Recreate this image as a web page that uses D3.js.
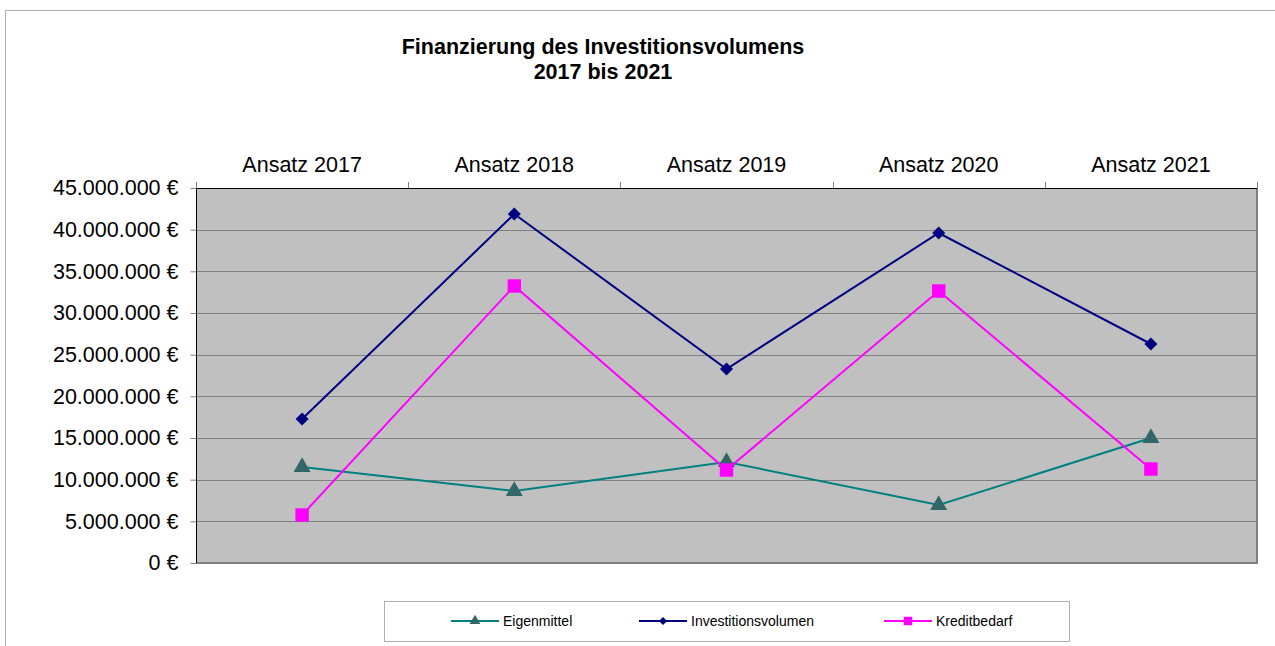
<!DOCTYPE html>
<html>
<head>
<meta charset="utf-8">
<script src="https://cdn.jsdelivr.net/npm/d3@7"></script>
<style>
  body { margin: 0; background: #fff; }
  svg { font-family: "Liberation Sans", Arial, sans-serif; }
</style>
</head>
<body>
<div class="mainContainer"></div>
<script>
const categories = ['Ansatz 2017', 'Ansatz 2018', 'Ansatz 2019', 'Ansatz 2020', 'Ansatz 2021'];
const eigenmittel = [11520000, 8640000, 12120000, 6960000, 15000000];
const investitionsvolumen = [17280000, 41880000, 23280000, 39600000, 26280000];
const kreditbedarf = [5760000, 33240000, 11160000, 32640000, 11280000];
const yTicks = [0, 5000000, 10000000, 15000000, 20000000, 25000000, 30000000, 35000000, 40000000, 45000000];

const series = [
  {name: 'Eigenmittel', values: eigenmittel, line: '#008080', marker: '#336666', symbol: d3.symbolTriangle, size: 125, rot: 0},
  {name: 'Investitionsvolumen', values: investitionsvolumen, line: '#000080', marker: '#000080', symbol: d3.symbolSquare, size: 85, rot: 45},
  {name: 'Kreditbedarf', values: kreditbedarf, line: '#FF00FF', marker: '#FF00FF', symbol: d3.symbolSquare, size: 180, rot: 0}
];

const svg = d3.select('.mainContainer')
  .append('svg')
  .attr('width', 1275)
  .attr('height', 646);

// outer chart frame
svg.append('rect')
  .attr('x', 5.5).attr('y', 10.5)
  .attr('width', 1280).attr('height', 650)
  .attr('fill', '#fff').attr('stroke', '#b0b0b0');

// title
svg.append('text')
  .attr('x', 603).attr('y', 54)
  .attr('text-anchor', 'middle')
  .attr('font-size', 21.5).attr('font-weight', 'bold')
  .text('Finanzierung des Investitionsvolumens');
svg.append('text')
  .attr('x', 603).attr('y', 79)
  .attr('text-anchor', 'middle')
  .attr('font-size', 21.5).attr('font-weight', 'bold')
  .text('2017 bis 2021');

const pLeft = 196, pTop = 188, pRight = 1257, pBottom = 563;

const x = d3.scaleBand().domain(categories).range([pLeft, pRight]);
const y = d3.scaleLinear().domain([0, 45000000]).range([pBottom, pTop]);

// plot background
svg.append('rect')
  .attr('x', pLeft).attr('y', pTop)
  .attr('width', pRight - pLeft).attr('height', pBottom - pTop)
  .attr('fill', '#C0C0C0');

// gridlines
svg.append('g')
  .selectAll('line')
  .data(yTicks.slice(1, -1))
  .join('line')
  .attr('x1', pLeft).attr('x2', pRight)
  .attr('y1', d => Math.round(y(d)) + 0.5)
  .attr('y2', d => Math.round(y(d)) + 0.5)
  .attr('stroke', '#808080').attr('stroke-width', 1);

// plot border: right & bottom gray, left & top black
svg.append('line').attr('x1', pRight).attr('x2', pRight).attr('y1', pTop).attr('y2', pBottom + 1)
  .attr('stroke', '#808080').attr('stroke-width', 2);
svg.append('line').attr('x1', pLeft).attr('x2', pRight + 1).attr('y1', pBottom).attr('y2', pBottom)
  .attr('stroke', '#808080').attr('stroke-width', 2);

// y axis
const yAxis = d3.axisLeft(y)
  .tickValues(yTicks)
  .tickSize(6)
  .tickPadding(12)
  .tickFormat(d => d3.format(',')(d).replace(/,/g, '.') + ' €');
const yAxisGroup = svg.append('g')
  .attr('transform', `translate(${pLeft + 0.5},0)`)
  .call(yAxis);
yAxisGroup.select('.domain').attr('stroke', '#000').attr('d', `M0,${pTop}V${pBottom}`);
yAxisGroup.selectAll('.tick line').attr('stroke', '#808080');
yAxisGroup.selectAll('text').attr('font-size', 21.5).attr('fill', '#000')
  .attr('font-family', '"Liberation Sans", Arial, sans-serif');

// x axis on top
const xAxis = d3.axisTop(x).tickSize(0).tickPadding(17);
const xAxisGroup = svg.append('g')
  .attr('transform', `translate(0,${pTop + 0.5})`)
  .call(xAxis);
xAxisGroup.select('.domain').attr('stroke', '#000').attr('d', `M${pLeft},0H${pRight}`);
xAxisGroup.selectAll('text').attr('font-size', 21.5).attr('fill', '#000')
  .attr('font-family', '"Liberation Sans", Arial, sans-serif');
// category boundary ticks
svg.append('g')
  .selectAll('line')
  .data(categories.concat(['end']))
  .join('line')
  .attr('x1', (d, i) => Math.round(pLeft + i * x.bandwidth()) + 0.5)
  .attr('x2', (d, i) => Math.round(pLeft + i * x.bandwidth()) + 0.5)
  .attr('y1', pTop - 6).attr('y2', pTop)
  .attr('stroke', '#808080');

const cx = d => x(d) + x.bandwidth() / 2;
const line = d3.line().x((d, i) => cx(categories[i])).y(d => y(d));

series.forEach(s => {
  svg.append('path')
    .datum(s.values)
    .attr('fill', 'none')
    .attr('stroke', s.line)
    .attr('stroke-width', 2)
    .attr('d', line);
});

series.forEach(s => {
  svg.append('g')
    .selectAll('path')
    .data(s.values)
    .join('path')
    .attr('transform', (d, i) => `translate(${cx(categories[i])},${y(d)}) rotate(${s.rot})`)
    .attr('d', d3.symbol().type(s.symbol).size(s.size))
    .attr('fill', s.marker);
});

// legend
const legend = svg.append('g');
legend.append('rect')
  .attr('x', 384.5).attr('y', 601.5)
  .attr('width', 685).attr('height', 40)
  .attr('fill', '#fff').attr('stroke', '#b0b0b0');
const legendX = [451, 639, 884];
series.forEach((s, i) => {
  const g = legend.append('g').attr('transform', `translate(${legendX[i]},621)`);
  g.append('line').attr('x1', 0).attr('x2', 48).attr('stroke', s.line).attr('stroke-width', 2);
  g.append('path').attr('transform', `translate(24,0) rotate(${s.rot})`)
    .attr('d', d3.symbol().type(s.symbol).size(s.size * 0.4))
    .attr('fill', s.marker);
  g.append('text').attr('x', 52).attr('y', 5)
    .attr('font-size', 14).attr('fill', '#000')
    .text(s.name);
});
</script>
</body>
</html>
